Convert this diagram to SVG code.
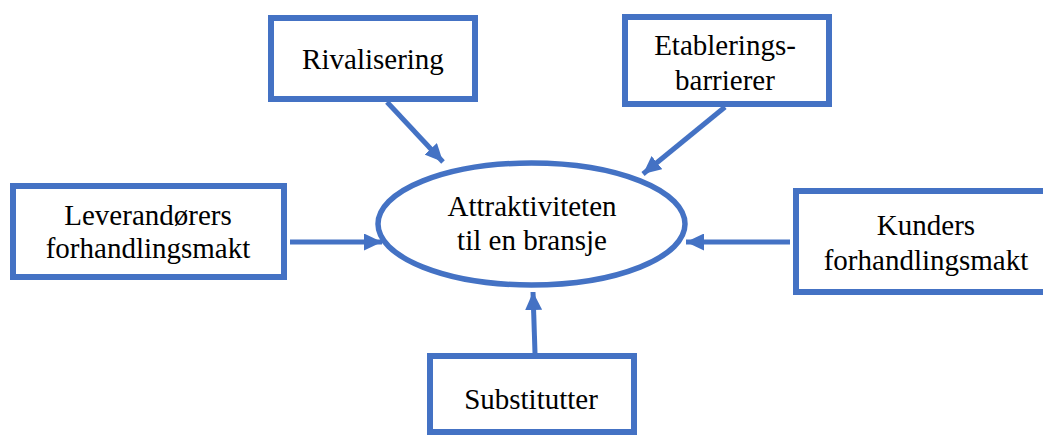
<svg xmlns="http://www.w3.org/2000/svg" width="1043" height="436" viewBox="0 0 1043 436">
<style>
.box{fill:#fff;stroke:#4472C4;stroke-width:6}
.ell{fill:#fff;stroke:#4472C4;stroke-width:5.5}
.t{font-family:'Liberation Serif','Times New Roman',serif;font-size:29px;fill:#000;text-anchor:middle}
.c{stroke:#4472C4;stroke-width:5;fill:none;marker-end:url(#ah)}
</style>
<defs>
<marker id="ah" markerUnits="userSpaceOnUse" viewBox="0 0 18 17" markerWidth="18" markerHeight="17" refX="18" refY="8.5" orient="auto">
<path d="M0,0 L18,8.5 L0,17 Z" fill="#4472C4"/>
</marker>
</defs>
<rect width="1043" height="436" fill="#fff"/>
<g id="connectors">
<line class="c" x1="387" y1="102" x2="443" y2="162"/>
<line class="c" x1="725" y1="107" x2="643" y2="174"/>
<line class="c" x1="290" y1="242" x2="382" y2="242"/>
<line class="c" x1="790" y1="242" x2="686" y2="242"/>
<line class="c" x1="535" y1="353" x2="533" y2="292"/>
</g>
<g id="center">
<ellipse class="ell" cx="531.5" cy="224" rx="153.5" ry="61"/>
<text class="t" x="532" y="216">Attraktiviteten</text>
<text class="t" x="532" y="249.5">til en bransje</text>
</g>
<g id="rivalisering">
<rect class="box" x="271" y="18" width="204" height="81"/>
<text class="t" x="373" y="68.5">Rivalisering</text>
</g>
<g id="etablering">
<rect class="box" x="625" y="17" width="204" height="87"/>
<text class="t" x="725" y="55">Etablerings-</text>
<text class="t" x="725" y="89.5">barrierer</text>
</g>
<g id="leverandorer">
<rect class="box" x="13" y="186" width="271" height="91"/>
<text class="t" x="148" y="224.5">Leverandørers</text>
<text class="t" x="148" y="258">forhandlingsmakt</text>
</g>
<g id="kunder">
<rect class="box" x="796" y="191" width="260" height="101"/>
<text class="t" x="926" y="235">Kunders</text>
<text class="t" x="926" y="269.5">forhandlingsmakt</text>
</g>
<g id="substitutter">
<rect class="box" x="430" y="356" width="204" height="76"/>
<text class="t" x="531" y="409">Substitutter</text>
</g>
</svg>
